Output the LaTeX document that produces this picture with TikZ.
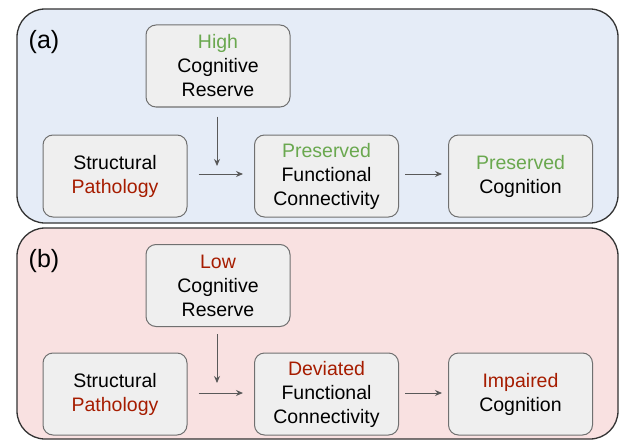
\documentclass[tikz,border=0pt]{standalone}
\usepackage{fontspec}
\setmainfont{Liberation Sans}
\usetikzlibrary{arrows.meta}
\definecolor{gr}{HTML}{6AA84F}
\definecolor{rd}{HTML}{A61C00}
\definecolor{boxfill}{HTML}{EFEFEF}
\definecolor{boxline}{HTML}{707070}
\definecolor{panA}{HTML}{E5ECF7}
\definecolor{panB}{HTML}{F9E1E1}
\begin{document}
\begin{tikzpicture}[x=1pt,y=-1pt,
  panel/.style={draw=black!80,line width=1.3pt,rounded corners=28pt},
  fbox/.style={draw=boxline,fill=boxfill,line width=1pt,rounded corners=10pt,
    minimum width=144pt,minimum height=82pt,align=center,inner sep=0pt,
    font=\fontsize{19.5}{24}\selectfont},
  conn/.style={draw=black!65,line width=1pt,-{Stealth[length=7pt,width=6pt]}},
  plab/.style={font=\fontsize{25}{28}\selectfont,inner sep=0pt}]
\useasboundingbox (0,0) rectangle (620,441);
% panel (a)
\draw[panel,fill=panA] (17,9) rectangle (618,223);
\node[plab] (la) at (44,42) {(a)};
\node[fbox] (hcr) at (218,66) {\textcolor{gr}{High}\\Cognitive\\Reserve};
\node[fbox] (sp1) at (115,176) {Structural\\\textcolor{rd}{Pathology}};
\node[fbox] (fc1) at (326.5,176) {\textcolor{gr}{Preserved}\\Functional\\Connectivity};
\node[fbox] (cg1) at (520.5,176) {\textcolor{gr}{Preserved}\\Cognition};
\coordinate (j1) at (217,166);
\draw[conn] (hcr.south -| j1) ++(0,9) -- (j1);
\draw[conn] ([xshift=11pt,yshift=2pt]sp1.east) -- ([xshift=-11pt,yshift=2pt]fc1.west);
\draw[conn] ([xshift=6pt,yshift=2pt]fc1.east) -- ([xshift=-6pt,yshift=2pt]cg1.west);
% panel (b)
\draw[panel,fill=panB] (17,228) rectangle (618,439);
\node[plab] (lb) at (44,261) {(b)};
\node[fbox] (lcr) at (218,285.5) {\textcolor{rd}{Low}\\Cognitive\\Reserve};
\node[fbox] (sp2) at (115,394) {Structural\\\textcolor{rd}{Pathology}};
\node[fbox] (fc2) at (326.5,394) {\textcolor{rd}{Deviated}\\Functional\\Connectivity};
\node[fbox] (cg2) at (520.5,394) {\textcolor{rd}{Impaired}\\Cognition};
\coordinate (j2) at (217,383);
\draw[conn] (lcr.south -| j2) ++(0,7) -- (j2);
\draw[conn] ([xshift=11pt,yshift=1pt]sp2.east) -- ([xshift=-11pt,yshift=1pt]fc2.west);
\draw[conn] ([xshift=6pt,yshift=1pt]fc2.east) -- ([xshift=-6pt,yshift=1pt]cg2.west);
\end{tikzpicture}
\end{document}
